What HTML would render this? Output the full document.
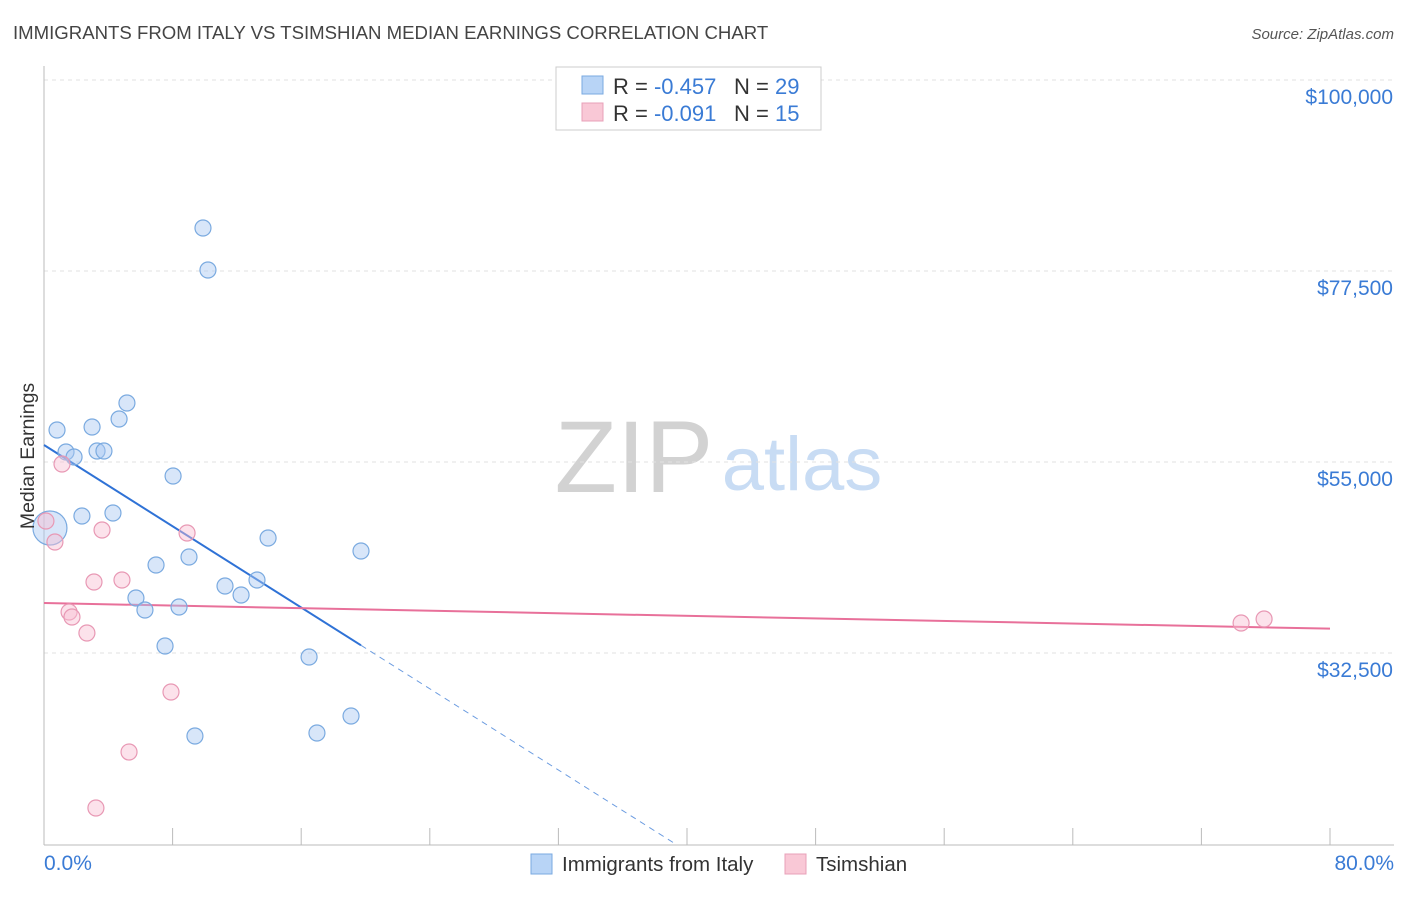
<!DOCTYPE html>
<html><head><meta charset="utf-8"><style>
body{margin:0;background:#fff;font-family:"Liberation Sans",sans-serif;}
svg text{font-family:"Liberation Sans",sans-serif;}
</style></head><body>
<svg id="c" width="1406" height="892" xmlns="http://www.w3.org/2000/svg">
<text x="13" y="39" font-size="18.6" fill="#444">IMMIGRANTS FROM ITALY VS TSIMSHIAN MEDIAN EARNINGS CORRELATION CHART</text>
<text x="1394" y="39" font-size="15" fill="#555" text-anchor="end" font-style="italic">Source: ZipAtlas.com</text>
<text x="634" y="492" font-size="102" fill="#d2d2d2" text-anchor="middle" font-family="Liberation Serif">ZIP</text>
<text x="802" y="490" font-size="76" fill="#c8dcf4" text-anchor="middle">atlas</text>
<g id="grid"></g><g id="axes"></g><g id="lines"></g><g id="pts"></g>
<text transform="translate(34,456) rotate(-90)" font-size="19.5" fill="#333" text-anchor="middle">Median Earnings</text>
<text x="44" y="870" font-size="21" fill="#3a7bd5">0.0%</text>
<text x="1394" y="870" font-size="21" fill="#3a7bd5" text-anchor="end">80.0%</text>
<g>
<rect x="556" y="67" width="265" height="63" fill="#fff" stroke="#ccc"/>
<rect x="582" y="76" width="21" height="18" fill="#b8d4f6" stroke="#7aaae0"/>
<rect x="582" y="103" width="21" height="18" fill="#f9c8d6" stroke="#e8a0b8"/>
<text x="613" y="94" font-size="22" fill="#333">R = <tspan fill="#3a7bd5">-0.457</tspan><tspan x="734">N = </tspan><tspan fill="#3a7bd5">29</tspan></text>
<text x="613" y="121" font-size="22" fill="#333">R = <tspan fill="#3a7bd5">-0.091</tspan><tspan x="734">N = </tspan><tspan fill="#3a7bd5"> 15</tspan></text>
</g>
<g>
<rect x="531" y="854" width="21" height="20" fill="#b8d4f6" stroke="#7aaae0"/>
<text x="562" y="871" font-size="20.5" fill="#333">Immigrants from Italy</text>
<rect x="785" y="854" width="21" height="20" fill="#f9c8d6" stroke="#e8a0b8"/>
<text x="816" y="871" font-size="20.5" fill="#333">Tsimshian</text>
</g>
</svg>
<script>
const yTicks=[100000,77500,55000,32500];
const yTickLabels=["$100,000","$77,500","$55,000","$32,500"];
const blueX=[0.37,0.81,1.37,1.87,2.36,2.99,3.30,3.73,4.29,4.67,5.16,5.72,6.28,6.97,7.53,8.03,8.40,9.02,9.39,9.89,10.20,11.26,12.26,13.25,13.94,16.49,16.98,19.10,19.72];
const blueY=[47226,58770,56178,55589,48639,59123,56296,56296,48993,60066,61951,38980,37566,42867,33325,53351,37919,43809,22723,82566,77618,40393,39333,41100,46048,32029,23077,25079,44516];
const pinkX=[0.12,0.68,1.12,1.56,1.74,2.67,3.11,3.23,3.61,4.85,5.29,7.90,8.90,74.47,75.90];
const pinkY=[48050,45576,54765,37330,36741,34857,40864,14242,46990,41100,20838,27906,46637,36035,36506];
const NS="http://www.w3.org/2000/svg";
const X=v=>44+v/80*1286;
const Y=v=>80+(100000-v)/22500*191;
function mk(t,a,p){const e=document.createElementNS(NS,t);for(const k in a)e.setAttribute(k,a[k]);document.getElementById(p).appendChild(e);return e;}
yTicks.forEach((t,i)=>{
 const l=mk('line',{x1:44,x2:1394,y1:Y(t),y2:Y(t),stroke:'#e2e2e2','stroke-dasharray':'4,4'},'grid');
 
 
 const tx=mk('text',{x:1393,y:Y(t)+24,'font-size':21,fill:'#3a7bd5','text-anchor':'end'},'grid');
 tx.textContent=yTickLabels[i];
 
 
});
const ax=mk('line',{x1:44,x2:44,y1:66,y2:845,stroke:'#bbb'},'axes');


const bx=mk('line',{x1:44,x2:1394,y1:845,y2:845,stroke:'#bbb'},'axes');


for(let i=0;i<=10;i++){const t=mk('line',{x1:X(i*8),x2:X(i*8),y1:828,y2:845,stroke:'#bbb'},'axes');
 
 }
function reg(xs,ys){const n=xs.length;let mx=0,my=0;xs.forEach((v,i)=>{mx+=v;my+=ys[i];});mx/=n;my/=n;let sxy=0,sxx=0;xs.forEach((v,i)=>{sxy+=(v-mx)*(ys[i]-my);sxx+=(v-mx)*(v-mx);});const b=sxy/sxx;return [my-b*mx,b];}
const [ba,bb]=reg(blueX,blueY);
const bmax=Math.max(...blueX);
const bl=mk('line',{x1:X(0),y1:Y(ba),x2:X(bmax),y2:Y(ba+bb*bmax),stroke:'#2f72d6','stroke-width':2},'lines');


const yb=9880, xe=(yb-ba)/bb;
const bd=mk('line',{x1:X(bmax),y1:Y(ba+bb*bmax),x2:X(xe),y2:Y(yb),stroke:'#6a9be0','stroke-width':1,'stroke-dasharray':'6,5'},'lines');


const [pa,pb]=reg(pinkX,pinkY);
const pl=mk('line',{x1:X(0),y1:Y(pa),x2:X(80),y2:Y(pa+pb*80),stroke:'#e8709a','stroke-width':2},'lines');


blueX.forEach((v,i)=>{const c=mk('circle',{cx:X(v),cy:Y(blueY[i]),r:i==0?17:8,fill:'rgba(168,200,242,0.45)',stroke:'#7aaae0','stroke-width':1.2},'pts');
 
 });
pinkX.forEach((v,i)=>{const c=mk('circle',{cx:X(v),cy:Y(pinkY[i]),r:8,fill:'rgba(248,190,210,0.45)',stroke:'#e898b4','stroke-width':1.2},'pts');
 
 });
</script>
</body></html>
